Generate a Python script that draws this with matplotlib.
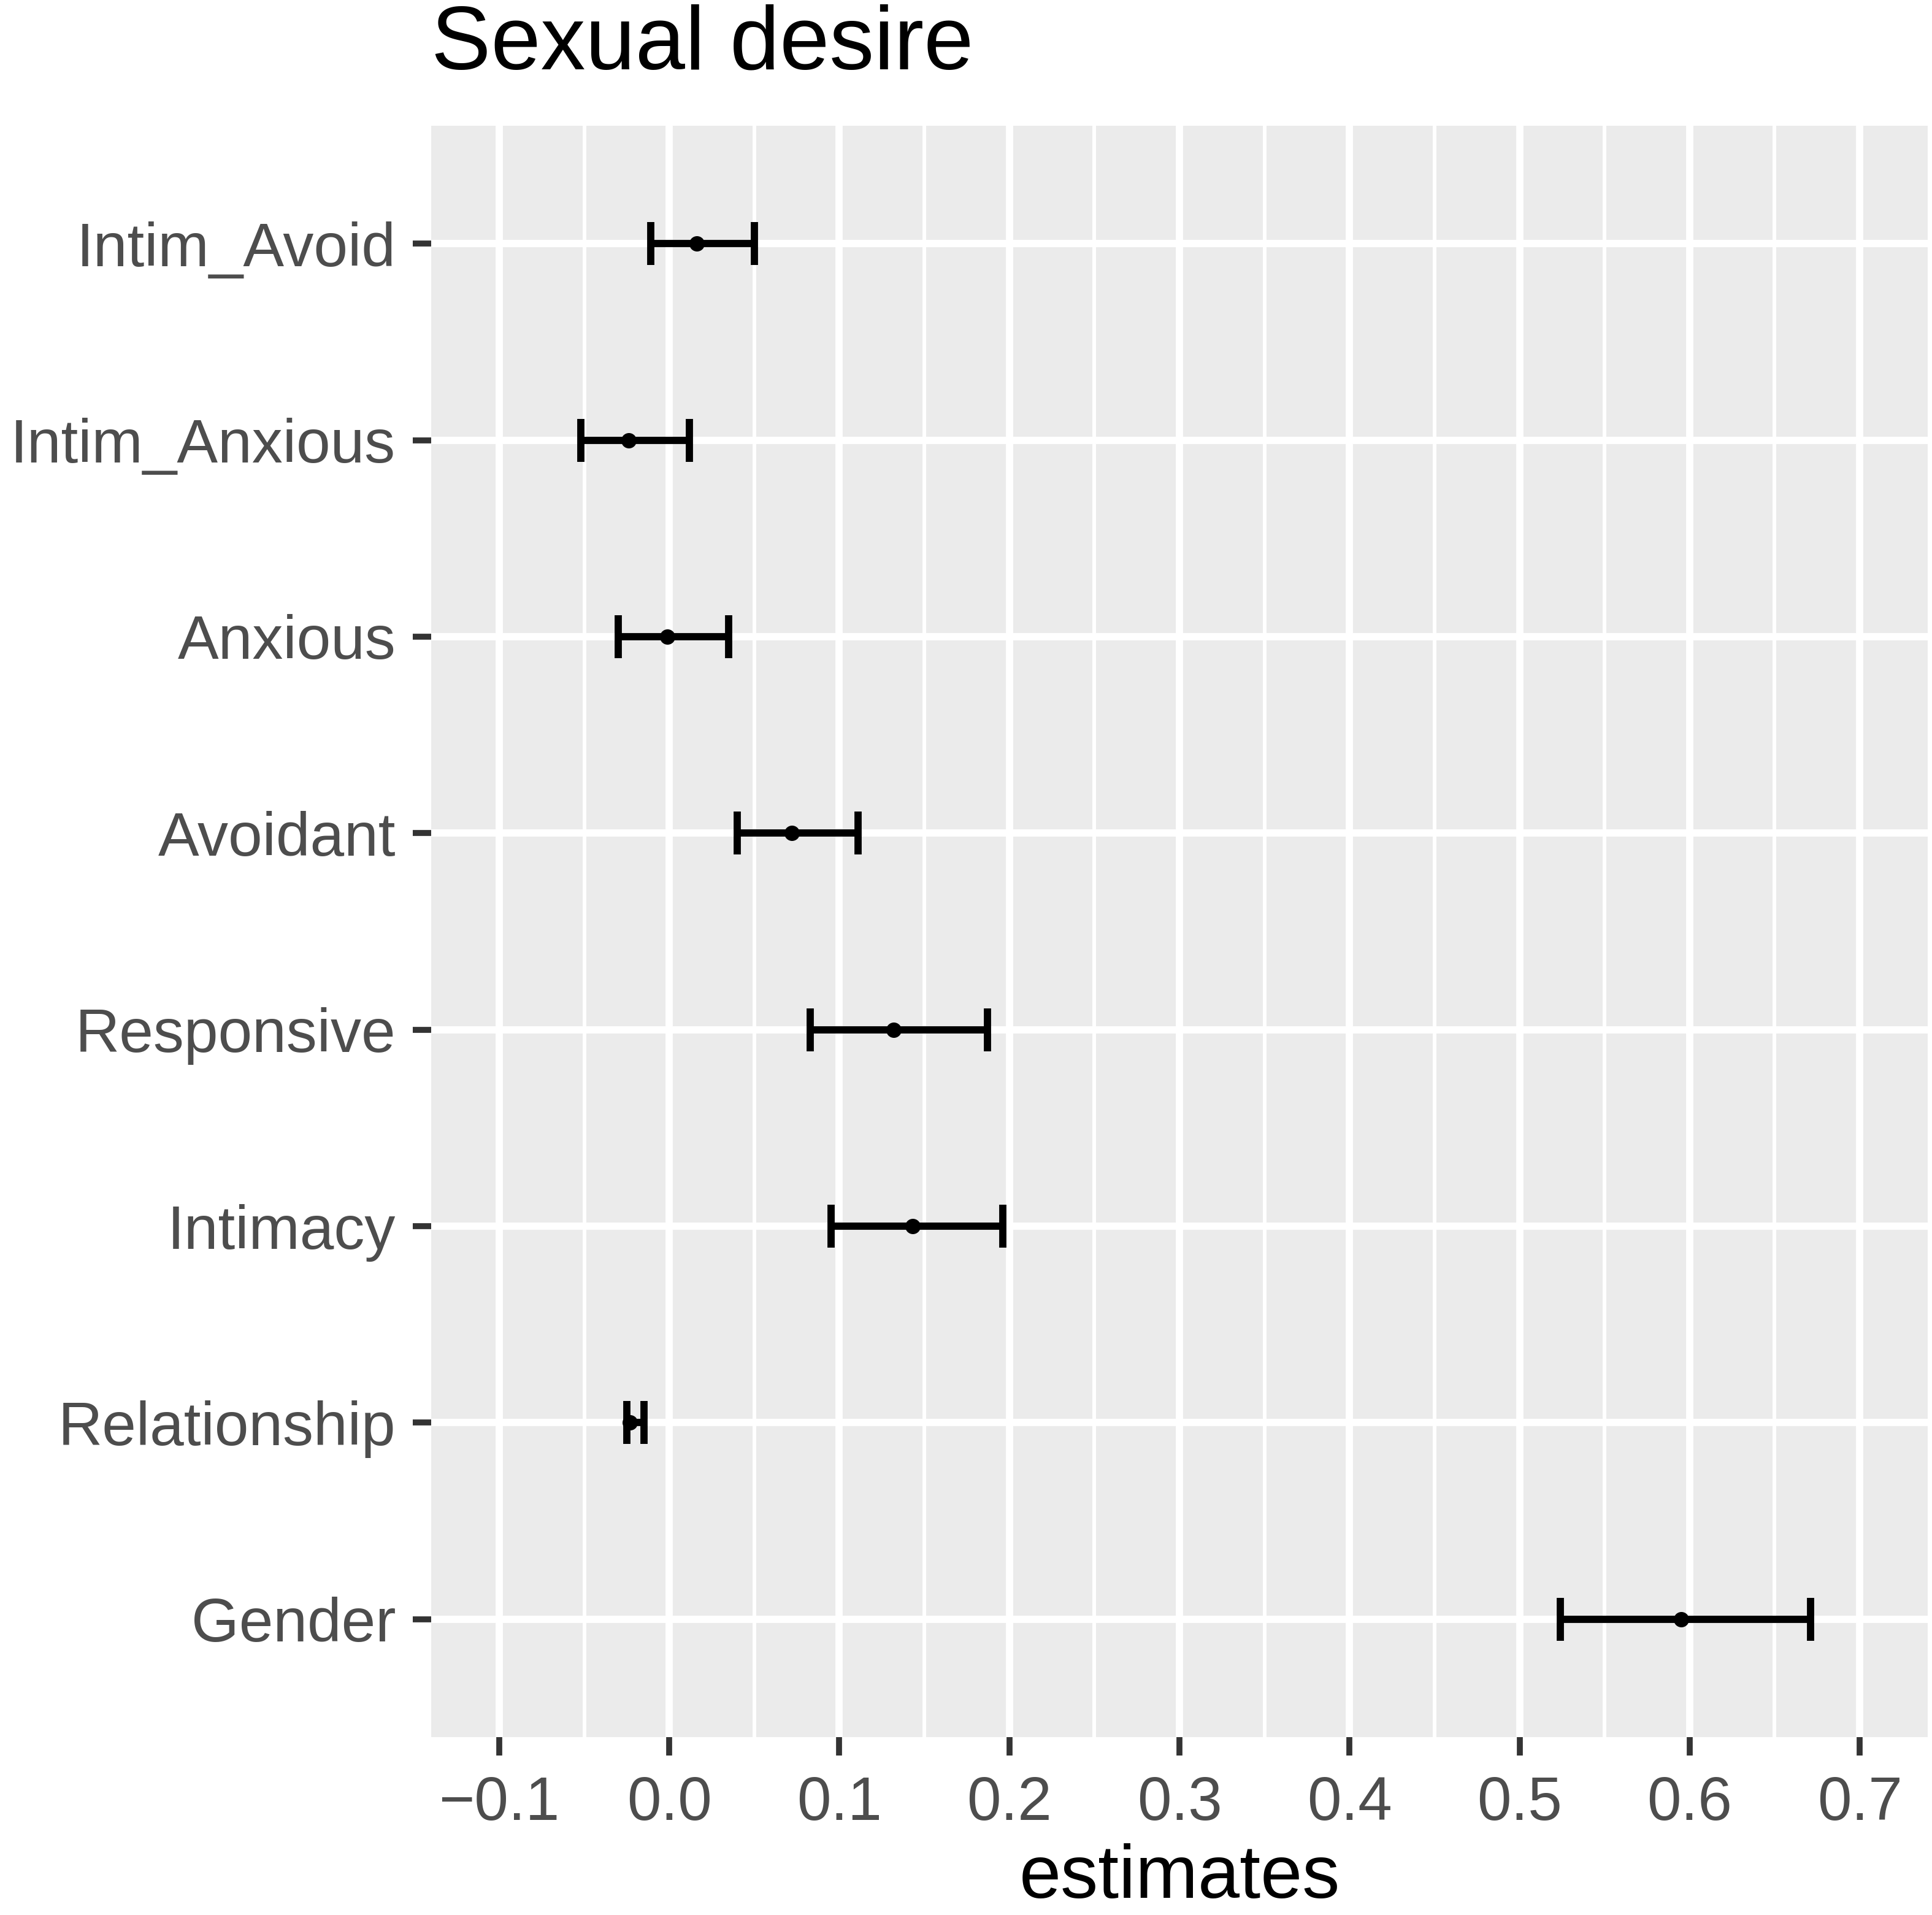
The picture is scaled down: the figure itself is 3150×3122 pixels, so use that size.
import matplotlib
matplotlib.use("Agg")
import matplotlib.pyplot as plt
from matplotlib.ticker import MultipleLocator, FixedLocator
import numpy as np

plt.rcParams['font.family'] = ['Liberation Sans', 'DejaVu Sans']

# Data (top to bottom as in the chart)
terms = ["Intim_Avoid", "Intim_Anxious", "Anxious", "Avoidant",
         "Responsive", "Intimacy", "Relationship", "Gender"]
estimates = [0.016, -0.024, -0.001, 0.072, 0.132, 0.143, -0.023, 0.595]
conf_low = [-0.011, -0.052, -0.030, 0.040, 0.083, 0.095, -0.025, 0.524]
conf_high = [0.050, 0.012, 0.035, 0.111, 0.187, 0.196, -0.015, 0.671]
x_ticks = [-0.1, 0.0, 0.1, 0.2, 0.3, 0.4, 0.5, 0.6, 0.7]
x_tick_labels = ["\u22120.1", "0.0", "0.1", "0.2", "0.3", "0.4", "0.5", "0.6", "0.7"]

W, H = 3150, 3122
fig = plt.figure(figsize=(W / 100, H / 100), dpi=100)

# panel position in pixels
left, right, top, bottom = 703, 3143, 205, 2832
ax = fig.add_axes([left / W, 1 - bottom / H, (right - left) / W, (bottom - top) / H])

ax.set_facecolor("#EBEBEB")
for s in ax.spines.values():
    s.set_visible(False)

ypos = np.arange(len(terms))[::-1] + 1
est = np.array(estimates)
lo = np.array(conf_low)
hi = np.array(conf_high)

ax.errorbar(est, ypos, xerr=[est - lo, hi - est], fmt='o', color='black',
            ms=17, elinewidth=8.5, capsize=25, capthick=8.5, zorder=3)

ax.set_xlim(-0.14, 0.74)
ax.set_ylim(0.4, len(terms) + 0.6)

ax.xaxis.set_major_locator(FixedLocator(x_ticks))
ax.set_xticklabels(x_tick_labels)
ax.xaxis.set_minor_locator(MultipleLocator(0.05))
ax.set_yticks(ypos)
ax.set_yticklabels(terms)

ax.set_axisbelow(True)
ax.grid(which='major', color='white', linewidth=8.5)
ax.grid(which='minor', axis='x', color='white', linewidth=4.3)

ax.tick_params(which='major', length=21.6, width=7, color='#333333',
               labelsize=72, labelcolor='#4D4D4D')
ax.tick_params(axis='x', pad=23)
ax.tick_params(axis='y', pad=20)
ax.tick_params(which='minor', length=0)

# Title and axis label
fig.text(left / W, 1 - 112 / H, "Sexual desire", fontsize=105, color='black',
         ha='left', va='baseline')
fig.text((left + right) / 2 / W, 1 - 3094 / H, "estimates", fontsize=88,
         color='black', ha='center', va='baseline')

fig.savefig("out.png", dpi=100, facecolor='white')
